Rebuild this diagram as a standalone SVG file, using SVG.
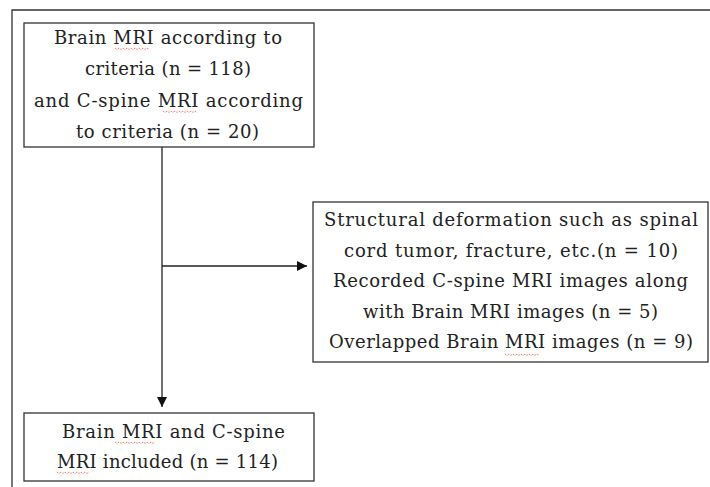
<svg xmlns="http://www.w3.org/2000/svg" width="710" height="487" viewBox="0 0 710 487">
  <defs>
    <style>
      .box { fill: #ffffff; stroke: #333333; stroke-width: 1.3; }
      .frame { fill: none; stroke: #333333; stroke-width: 1.3; }
      .link { fill: none; stroke: #222222; stroke-width: 1.3; }
      .lbl { font-family: "DejaVu Serif", "Liberation Serif", serif; font-size: 18px; fill: #222222; text-anchor: middle; }
      .squiggle { fill: none; stroke: #e0503a; stroke-width: 0.9; stroke-dasharray: 1 1; }
    </style>
    <marker id="arrow" viewBox="0 0 10 10" refX="10" refY="5" markerWidth="10" markerHeight="10" markerUnits="userSpaceOnUse" orient="auto">
      <path d="M0,0 L10,5 L0,10 Z" fill="#111111"/>
    </marker>
  </defs>

  <rect width="710" height="487" fill="#ffffff"/>

  <!-- outer frame (top and left edges) -->
  <path class="frame" d="M12,487 L12,10 L710,10"/>

  <!-- connectors -->
  <g id="connectors">
    <line class="link" x1="162" y1="147" x2="162" y2="407" marker-end="url(#arrow)"/>
    <line class="link" x1="162" y1="266" x2="307" y2="266" marker-end="url(#arrow)"/>
  </g>

  <!-- source records -->
  <g id="node-source">
    <rect class="box" x="24" y="23" width="290" height="124"/>
    <text class="lbl" x="168" y="44" textLength="228" lengthAdjust="spacing">Brain MRI according to</text>
    <text class="lbl" x="168" y="75" textLength="166" lengthAdjust="spacing">criteria (n = 118)</text>
    <text class="lbl" x="168.5" y="107" textLength="269" lengthAdjust="spacing">and C-spine MRI according</text>
    <text class="lbl" x="167.5" y="138" textLength="183" lengthAdjust="spacing">to criteria (n = 20)</text>
    <path class="squiggle" d="M115,48 l2,1.5 l2,-1.5 l2,1.5 l2,-1.5 l2,1.5 l2,-1.5 l2,1.5 l2,-1.5 l2,1.5 l2,-1.5 l2,1.5 l2,-1.5 l2,1.5 l2,-1.5 l2,1.5 l2,-1.5 l2,1.5"/>
    <path class="squiggle" d="M163,111 l2,1.5 l2,-1.5 l2,1.5 l2,-1.5 l2,1.5 l2,-1.5 l2,1.5 l2,-1.5 l2,1.5 l2,-1.5 l2,1.5 l2,-1.5 l2,1.5 l2,-1.5 l2,1.5 l2,-1.5 l2,1.5"/>
  </g>

  <!-- exclusions -->
  <g id="node-excluded">
    <rect class="box" x="313" y="202" width="395" height="160"/>
    <text class="lbl" x="511" y="226" textLength="374" lengthAdjust="spacing">Structural deformation such as spinal</text>
    <text class="lbl" x="511" y="257" textLength="334" lengthAdjust="spacing">cord tumor, fracture, etc.(n = 10)</text>
    <text class="lbl" x="510.5" y="287" textLength="355" lengthAdjust="spacing">Recorded C-spine MRI images along</text>
    <text class="lbl" x="510.5" y="318" textLength="295" lengthAdjust="spacing">with Brain MRI images (n = 5)</text>
    <text class="lbl" x="511" y="348" textLength="364" lengthAdjust="spacing">Overlapped Brain MRI images (n = 9)</text>
    <path class="squiggle" d="M505,354 l2,1.5 l2,-1.5 l2,1.5 l2,-1.5 l2,1.5 l2,-1.5 l2,1.5 l2,-1.5 l2,1.5 l2,-1.5 l2,1.5 l2,-1.5 l2,1.5 l2,-1.5 l2,1.5 l2,-1.5 l2,1.5"/>
  </g>

  <!-- included records -->
  <g id="node-included">
    <rect class="box" x="24" y="413" width="290" height="68"/>
    <text class="lbl" x="173.5" y="438" textLength="223" lengthAdjust="spacing">Brain MRI and C-spine</text>
    <text class="lbl" x="167.5" y="468" textLength="221" lengthAdjust="spacing">MRI included (n = 114)</text>
    <path class="squiggle" d="M115,442 l2,1.5 l2,-1.5 l2,1.5 l2,-1.5 l2,1.5 l2,-1.5 l2,1.5 l2,-1.5 l2,1.5 l2,-1.5 l2,1.5 l2,-1.5 l2,1.5 l2,-1.5 l2,1.5 l2,-1.5 l2,1.5 l2,-1.5 l2,1.5 l2,-1.5"/>
    <path class="squiggle" d="M57,472 l2,1.5 l2,-1.5 l2,1.5 l2,-1.5 l2,1.5 l2,-1.5 l2,1.5 l2,-1.5 l2,1.5 l2,-1.5 l2,1.5 l2,-1.5 l2,1.5 l2,-1.5 l2,1.5 l2,-1.5"/>
  </g>
</svg>
